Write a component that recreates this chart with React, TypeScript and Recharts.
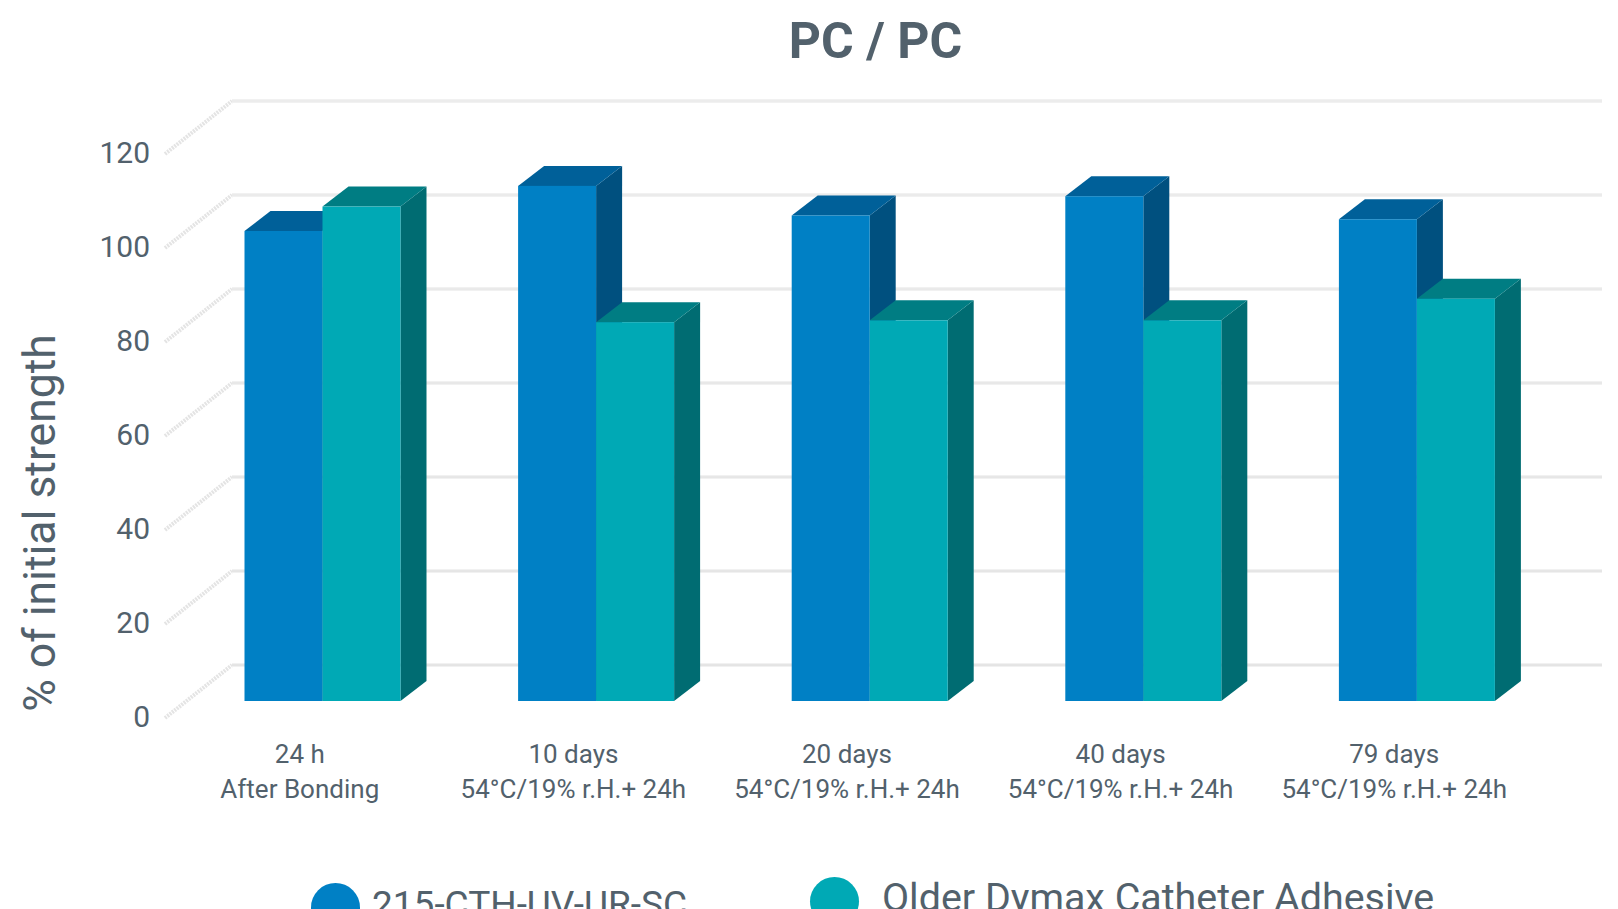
import { BarChart, Bar, XAxis, YAxis, CartesianGrid } from "recharts";

const categories = ["24 h", "10 days", "20 days", "40 days", "79 days"];
const conditions = [
  "After Bonding",
  "54°C/19% r.H.+ 24h",
  "54°C/19% r.H.+ 24h",
  "54°C/19% r.H.+ 24h",
  "54°C/19% r.H.+ 24h",
];
const ctlValues = [100, 109.6, 103.3, 107.4, 102.5];
const olderValues = [105.2, 80.6, 81, 81, 85.6];
const yTicks = [0, 20, 40, 60, 80, 100, 120];
const seriesNames = ["215-CTH-UV-UR-SC", "Older Dymax Catheter Adhesive"];

const chartData = categories.map((label, i) => ({
  label,
  condition: conditions[i],
  ctl: ctlValues[i],
  older: olderValues[i],
}));

const TEXT = "#52616c";
const FONT = "Roboto, sans-serif";

// bars stand a bit inside the floor, so they are pushed back from the front plane
const SHIFT_X = 23;
const SHIFT_Y = -18;
const DEPTH_X = 26;
const DEPTH_Y = -20;
const WALL_X = 69;
const WALL_Y = -54;
const WALL_RIGHT = 1602;

const makeBar = (front: string, top: string, side: string) => (props: any) => {
  const x = props.x + SHIFT_X;
  const y = props.y + SHIFT_Y;
  const w = props.width;
  const h = props.height;
  return (
    <g>
      <polygon
        points={`${x + w},${y} ${x + w + DEPTH_X},${y + DEPTH_Y} ${x + w + DEPTH_X},${y + h + DEPTH_Y} ${x + w},${y + h}`}
        fill={side}
      />
      <polygon
        points={`${x},${y} ${x + DEPTH_X},${y + DEPTH_Y} ${x + w + DEPTH_X},${y + DEPTH_Y} ${x + w},${y}`}
        fill={top}
      />
      <rect x={x} y={y} width={w} height={h} fill={front} />
    </g>
  );
};

const wallLine = (props: any) => {
  const backX = props.x1 + WALL_X;
  const backY = props.y1 + WALL_Y;
  // lower lines are a little darker in the original
  const strength = 0.35 + (0.65 * (props.y1 - 155)) / 564;
  return (
    <g key={props.key}>
      <line x1={props.x1 + 2} y1={props.y1 - 1} x2={backX} y2={backY} stroke="#e4e4e4" strokeWidth={4} strokeDasharray="2 1" />
      <line x1={backX} y1={backY} x2={WALL_RIGHT} y2={backY} stroke="#f1f1f1" strokeWidth={4} />
      <line x1={backX} y1={backY} x2={WALL_RIGHT} y2={backY} stroke="#d8d8d8" strokeWidth={1} opacity={strength} />
    </g>
  );
};

const CategoryTick = (props: any) => {
  const { x, y, payload } = props;
  return (
    <text x={x} y={y} textAnchor="middle" fill={TEXT} fontFamily={FONT} fontSize={26}>
      <tspan x={x} y={y + 42}>{payload.value}</tspan>
      <tspan x={x} y={y + 77}>{conditions[payload.index]}</tspan>
    </text>
  );
};

const App = () => {
  return (
    <div style={{ position: "absolute", left: 0, top: 0, width: 1618, height: 909, overflow: "hidden", background: "#fff" }}>
      <div
        style={{
          position: "absolute",
          left: 0,
          width: 1751,
          top: 13,
          textAlign: "center",
          fontFamily: FONT,
          fontWeight: 700,
          fontSize: 50,
          lineHeight: "56px",
          color: TEXT,
        }}
      >
        PC / PC
      </div>

      <BarChart
        width={1618}
        height={909}
        data={chartData}
        barGap={0}
        barCategoryGap={58.5}
        margin={{ top: 155, right: 87, bottom: 0, left: 0 }}
      >
        <CartesianGrid vertical={false} horizontal={wallLine} />
        <XAxis
          dataKey="label"
          height={190}
          interval={0}
          axisLine={false}
          tickLine={false}
          tickSize={0}
          tick={CategoryTick}
        />
        <YAxis
          width={163}
          domain={[0, 120]}
          ticks={yTicks}
          axisLine={false}
          tickLine={false}
          tickSize={0}
          tickMargin={13}
          tick={{ fill: TEXT, fontFamily: FONT, fontSize: 30, dy: -3 }}
          label={{
            value: "% of initial strength",
            angle: -90,
            position: "insideLeft",
            dx: 34,
            dy: 86,
            style: { fill: TEXT, fontFamily: FONT, fontSize: 44.5, textAnchor: "middle" },
          }}
        />
        <Bar dataKey="ctl" isAnimationActive={false} shape={makeBar("#0080c5", "#006099", "#00507f")} />
        <Bar dataKey="older" isAnimationActive={false} shape={makeBar("#00a9b5", "#007d83", "#006c72")} />
      </BarChart>

      <div style={{ position: "absolute", left: 311, top: 883, width: 49, height: 49, borderRadius: "50%", background: "#0080c5" }} />
      <div style={{ position: "absolute", left: 372, top: 882, fontFamily: FONT, fontSize: 37, lineHeight: "46px", color: TEXT, whiteSpace: "nowrap" }}>
        {seriesNames[0]}
      </div>
      <div style={{ position: "absolute", left: 810, top: 877, width: 49, height: 49, borderRadius: "50%", background: "#00a9b5" }} />
      <div style={{ position: "absolute", left: 882, top: 875, fontFamily: FONT, fontSize: 39.4, lineHeight: "46px", color: TEXT, whiteSpace: "nowrap" }}>
        {seriesNames[1]}
      </div>
    </div>
  );
};

export default App;
